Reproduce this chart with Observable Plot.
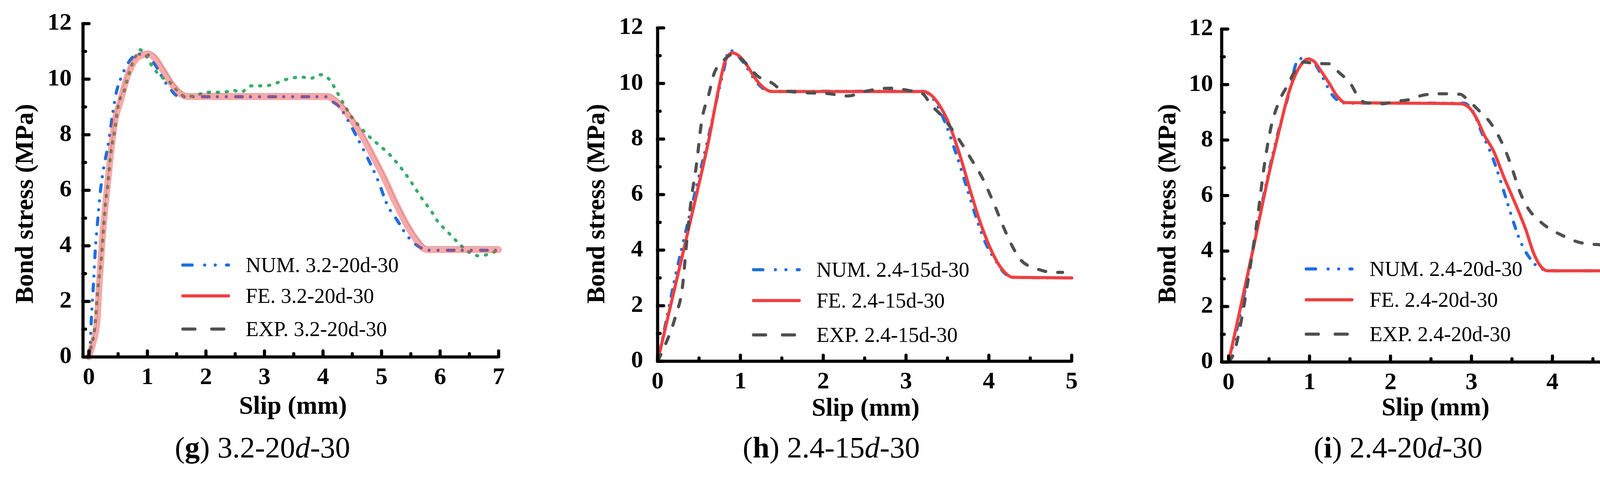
<!DOCTYPE html>
<html>
<head>
<meta charset="utf-8">
<script src="https://cdn.jsdelivr.net/npm/d3@7"></script>
<script src="https://cdn.jsdelivr.net/npm/@observablehq/plot@0.6"></script>
<style>
  body { margin: 0; background: #fff; }
  #fig { position: relative; width: 4222px; height: 1222px; overflow: hidden; font-family: "Liberation Serif", "Times New Roman", serif; color: #000; }
  .panel { position: absolute; top: 0; }
  .caption { position: absolute; font-size: 77px; line-height: 1; white-space: nowrap; transform: translate(-50%, -50%); }
  .row { position: absolute; white-space: nowrap; font-size: 54px; line-height: 1; transform: translateY(-50%); }
  .sample { position: absolute; transform: translateY(-50%); }
  .ylab, .xlab { position: absolute; white-space: nowrap; font-size: 65px; font-weight: bold; line-height: 1; }
  .ylab { transform: translate(-50%, -50%) rotate(-90deg); }
  .xlab { transform: translate(-50%, -50%); }
</style>
</head>
<body>
<div id="fig"></div>
<script>
// (g) 3.2-20d-30
const gNumX = [0, 0.02, 0.04, 0.08, 0.11, 0.15, 0.19, 0.25, 0.33, 0.40, 0.47, 0.54, 0.63, 0.73, 0.82, 0.99, 1.08, 1.17, 1.27, 1.39, 1.50, 1.60, 4.05, 4.15, 4.29, 4.43, 4.57, 4.76, 4.95, 5.09, 5.28, 5.42, 5.56, 5.70, 5.84, 7.0]
const gNumY = [0, 0.31, 1.26, 2.68, 3.86, 4.88, 5.83, 6.77, 7.64, 8.66, 9.53, 10.0, 10.43, 10.75, 10.9, 10.9, 10.67, 10.39, 10.0, 9.65, 9.41, 9.37, 9.37, 9.21, 8.98, 8.5, 7.95, 7.17, 6.3, 5.51, 4.88, 4.41, 4.09, 3.9, 3.84, 3.84]
const gFeX = [0, 0.066, 0.14, 0.18, 0.23, 0.30, 0.37, 0.44, 0.54, 0.63, 0.75, 0.87, 1.01, 1.13, 1.27, 1.41, 1.58, 1.69, 4.08, 4.19, 4.33, 4.50, 4.67, 4.85, 5.04, 5.23, 5.42, 5.61, 5.77, 7.0]
const gFeY = [0, 0.47, 1.26, 2.68, 4.25, 5.83, 7.24, 8.43, 9.21, 9.92, 10.55, 10.83, 10.9, 10.75, 10.31, 9.84, 9.45, 9.37, 9.37, 9.25, 8.98, 8.5, 7.95, 7.24, 6.46, 5.59, 4.8, 4.17, 3.86, 3.86]
const gExpX = [0, 0.04, 0.09, 0.14, 0.16, 0.21, 0.25, 0.28, 0.33, 0.37, 0.44, 0.51, 0.61, 0.66, 0.73, 0.80, 0.87, 0.96, 1.08, 1.22, 1.41, 1.53, 1.67, 1.88, 2.00, 2.17, 2.31, 2.45, 2.59, 2.78, 3.01, 3.18, 3.32, 3.53, 3.63, 3.77, 3.96, 4.12, 4.24, 4.36, 4.48, 4.62, 4.78, 4.95, 5.14, 5.30, 5.44, 5.58, 5.70, 5.84, 5.96, 6.13, 6.30, 6.46, 6.67, 6.88, 7.0]
const gExpY = [0, 0.39, 0.87, 2.13, 2.6, 3.46, 4.57, 5.43, 6.3, 7.24, 8.11, 9.13, 9.61, 10.0, 10.47, 10.83, 11.06, 10.9, 10.47, 10.12, 9.84, 9.53, 9.37, 9.45, 9.53, 9.53, 9.53, 9.61, 9.53, 9.76, 9.76, 9.84, 9.96, 10.06, 10.08, 10.02, 10.16, 9.96, 9.53, 9.09, 8.66, 8.31, 7.95, 7.64, 7.28, 6.89, 6.5, 6.06, 5.67, 5.28, 4.88, 4.5, 4.13, 3.82, 3.64, 3.74, 3.85]

// (h) 2.4-15d-30
const hNumX = [0, 0.10, 0.21, 0.35, 0.47, 0.60, 0.72, 0.80, 0.865, 0.95, 1.05, 1.18, 1.29, 1.36, 3.20, 3.30, 3.46, 3.61, 3.76, 3.86, 3.96, 4.08, 4.18, 4.29, 5.0]
const hNumY = [0, 1.4, 3.0, 4.8, 6.3, 7.9, 9.5, 10.5, 11.2, 11.05, 10.7, 10.1, 9.79, 9.72, 9.72, 9.55, 8.68, 7.42, 6.0, 5.05, 4.26, 3.63, 3.2, 3.02, 3.0]
const hFeX = [0, 0.235, 0.47, 0.62, 0.75, 0.815, 0.90, 0.98, 1.08, 1.16, 1.26, 1.38, 3.20, 3.30, 3.40, 3.50, 3.65, 3.79, 3.89, 3.99, 4.09, 4.18, 4.29, 5.0]
const hFeY = [0, 3, 6, 8, 10, 10.8, 11.1, 11.0, 10.65, 10.26, 9.9, 9.71, 9.71, 9.59, 9.23, 8.68, 7.42, 6.0, 5.05, 4.26, 3.63, 3.24, 3.02, 3.0]
const hExpX = [0, 0.086, 0.22, 0.30, 0.35, 0.40, 0.47, 0.53, 0.62, 0.68, 0.78, 0.91, 1.05, 1.21, 1.38, 1.51, 1.77, 2.04, 2.30, 2.50, 2.80, 3.03, 3.20, 3.30, 3.43, 3.53, 3.66, 3.79, 3.93, 4.06, 4.19, 4.29, 4.39, 4.56, 4.79, 4.89]
const hExpY = [0, 0.55, 1.66, 2.68, 4.26, 5.68, 7.1, 8.6, 9.63, 10.34, 10.77, 11.05, 10.77, 10.26, 10.02, 9.75, 9.67, 9.64, 9.55, 9.71, 9.83, 9.75, 9.63, 9.23, 8.84, 8.45, 7.89, 7.26, 6.55, 5.68, 4.74, 4.1, 3.63, 3.35, 3.2, 3.2]

// (i) 2.4-20d-30
const iNumX = [0, 0.10, 0.29, 0.47, 0.61, 0.73, 0.86, 0.95, 1.07, 1.17, 1.27, 1.37, 1.45, 2.90, 3.00, 3.13, 3.27, 3.37, 3.47, 3.60, 3.74, 3.87, 4.04, 5.0]
const iNumY = [0, 1.14, 3.9, 6.5, 8.25, 9.51, 10.89, 10.97, 10.73, 10.22, 9.67, 9.39, 9.33, 9.33, 9.12, 8.25, 7.3, 6.43, 5.49, 4.38, 3.67, 3.35, 3.29, 3.29]
const iFeX = [0, 0.15, 0.32, 0.49, 0.63, 0.74, 0.83, 0.90, 0.98, 1.05, 1.13, 1.24, 1.34, 1.44, 2.86, 2.96, 3.06, 3.16, 3.27, 3.40, 3.54, 3.67, 3.77, 3.84, 3.94, 5.0]
const iFeY = [0, 2.0, 4.3, 6.67, 8.4, 9.67, 10.38, 10.73, 10.92, 10.85, 10.54, 10.06, 9.59, 9.35, 9.31, 9.2, 8.8, 8.17, 7.62, 6.67, 5.72, 4.78, 3.91, 3.51, 3.29, 3.29]
const iExpX = [0, 0.07, 0.15, 0.25, 0.36, 0.44, 0.52, 0.63, 0.73, 0.83, 0.93, 1.07, 1.24, 1.37, 1.51, 1.62, 1.71, 1.91, 2.05, 2.25, 2.39, 2.59, 2.86, 2.96, 3.10, 3.23, 3.33, 3.42, 3.50, 3.60, 3.71, 3.81, 3.94, 4.11, 4.35, 4.62, 4.86, 4.97]
const iExpY = [0, 0.36, 1.38, 3.12, 5.25, 7.06, 8.41, 9.43, 9.98, 10.54, 10.81, 10.76, 10.75, 10.42, 10.02, 9.47, 9.34, 9.31, 9.39, 9.47, 9.61, 9.67, 9.65, 9.43, 9.04, 8.64, 8.17, 7.62, 6.99, 6.12, 5.49, 5.17, 4.85, 4.58, 4.3, 4.22, 4.18, 4.13]

const yMajor = [0, 2, 4, 6, 8, 10, 12]
const yMinor = [1, 3, 5, 7, 9, 11]

const blue = "#1c6fe3", red = "#f04040", grey = "#505050", green = "#35ad6a"
// dash patterns on the curves and (a little longer) in the legend samples
const numStyle = {stroke: blue, strokeWidth: 8, strokeDasharray: "17,21,0,23,0,24"}
const feStyle = {stroke: red, strokeWidth: 8}
const expStyle = {stroke: grey, strokeWidth: 8, strokeDasharray: "19,31"}
const legendDash = {num: "24,32,0,27,0,29", fe: null, exp: "31,43"}

const panels = [
  {tag: "g", name: "3.2-20", left: 0, width: 1330, ml: 212, mr: 54, mt: 60, mb: 186, xmin: -0.1, xmax: 7, yPad: 29,
   num: [gNumX, gNumY], fe: [gFeX, gFeY], exp: [gExpX, gExpY], feBand: true,
   yLab: [62, 522], xLab: [750, 1038], legend: [468, 629, [679, 758, 843]], cap: [672, 1146]},
  {tag: "h", name: "2.4-15", left: 1400, width: 1400, ml: 283, mr: 57, mt: 71, mb: 175, xmin: 0, xmax: 5, yPad: 37,
   num: [hNumX, hNumY], fe: [hFeX, hFeY], exp: [hExpX, hExpY],
   yLab: [1525, 522], xLab: [2216, 1043], legend: [1929, 2090, [691, 770, 858]], cap: [2128, 1146]},
  {tag: "i", name: "2.4-20", left: 2822, width: 1400, ml: 305, mr: 41, mt: 74, mb: 173, xmin: -0.085, xmax: 5, yPad: 22,
   num: [iNumX, iNumY], fe: [iFeX, iFeY], exp: [iExpX, iExpY],
   yLab: [2987, 522], xLab: [3675, 1042], legend: [3344, 3506, [689, 768, 856]], cap: [3579, 1146]}
]

const rows = ([xs, ys]) => xs.map((x, i) => ({x, y: ys[i]}))
const fig = d3.select("#fig")

panels.forEach(p => {
  const lineOpts = {x: "x", y: "y", curve: "monotone-x", strokeLinecap: "round", strokeLinejoin: "round"}
  const series = p.feBand
    ? [
        Plot.line(rows(p.num), {...lineOpts, ...numStyle}),
        Plot.line(rows(p.exp), {...lineOpts, stroke: green, strokeWidth: 8, strokeDasharray: "3,20"}),
        // FE drawn as a wide translucent band with a fine dotted edge
        Plot.line(rows(p.fe), {...lineOpts, stroke: red, strokeOpacity: 0.45, strokeWidth: 17}),
        Plot.line(rows(p.fe), {...lineOpts, dy: -9, stroke: "#000", strokeOpacity: 0.6, strokeWidth: 1.5, strokeLinecap: "butt", strokeDasharray: "1.5,2.5"})
      ]
    : [
        Plot.line(rows(p.num), {...lineOpts, ...numStyle}),
        Plot.line(rows(p.fe), {...lineOpts, ...feStyle}),
        Plot.line(rows(p.exp), {...lineOpts, ...expStyle})
      ]

  const xMajor = d3.range(0, p.xmax + 1)
  const xMinor = d3.range(0.5, p.xmax, 1)
  const tick = {strokeWidth: 8, strokeLinecap: "round", tickFormat: () => "", label: null}
  const lab = {tickSize: 0, fontSize: 62, fontWeight: "bold", tickFormat: d => String(d), label: null}

  const chart = Plot.plot({
    width: p.width,
    height: 1100,
    marginLeft: p.ml,
    marginRight: p.mr,
    marginTop: p.mt,
    marginBottom: p.mb,
    x: {domain: [p.xmin, p.xmax]},
    y: {domain: [0, 12]},
    style: {fontFamily: "Liberation Serif, Times New Roman, serif", background: "transparent", color: "#000", overflow: "visible"},
    marks: [
      ...series,
      Plot.ruleX([p.xmin], {strokeWidth: 8}),
      Plot.ruleY([0], {strokeWidth: 8}),
      Plot.axisY(yMajor, {...tick, tickSize: 16, dx: 16}),
      Plot.axisY(yMinor, {...tick, tickSize: 7, dx: 7}),
      Plot.axisY(yMajor, {...lab, tickPadding: p.yPad, dy: -4}),
      Plot.axisX(xMajor, {...tick, tickSize: 15, dy: -15}),
      Plot.axisX(xMinor, {...tick, tickSize: 8, dy: -8}),
      Plot.axisX(xMajor, {...lab, tickPadding: 25})
    ]
  })

  fig.append("div").attr("class", "panel").style("left", p.left + "px").append(() => chart)

  fig.append("div").attr("class", "ylab")
    .style("left", p.yLab[0] + "px").style("top", p.yLab[1] + "px")
    .text("Bond stress (MPa)")
  fig.append("div").attr("class", "xlab")
    .style("left", p.xLab[0] + "px").style("top", p.xLab[1] + "px")
    .text("Slip (mm)")

  // legend
  const entries = [
    {label: `NUM. ${p.name}d-30`, stroke: blue, dash: legendDash.num},
    {label: `FE. ${p.name}d-30`, stroke: red, dash: legendDash.fe},
    {label: `EXP. ${p.name}d-30`, stroke: grey, dash: legendDash.exp}
  ]
  entries.forEach((e, k) => {
    const y = p.legend[2][k]
    const svg = fig.append("svg").attr("class", "sample")
      .attr("width", 130).attr("height", 20)
      .style("left", (p.legend[0] - 4) + "px").style("top", y + "px")
    svg.append("line").attr("x1", 4).attr("x2", 121).attr("y1", 10).attr("y2", 10)
      .attr("stroke", e.stroke).attr("stroke-width", 8)
      .attr("stroke-linecap", "round")
      .attr("stroke-dasharray", e.dash)
    fig.append("div").attr("class", "row")
      .style("left", p.legend[1] + "px").style("top", y + "px")
      .text(e.label)
  })

  fig.append("div").attr("class", "caption")
    .style("left", p.cap[0] + "px").style("top", p.cap[1] + "px")
    .html(`(<b>${p.tag}</b>) ${p.name}<i>d</i>-30`)
})
</script>
</body>
</html>
